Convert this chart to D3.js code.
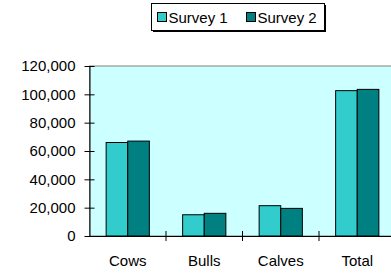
<!DOCTYPE html>
<html>
<head>
<meta charset="utf-8">
<script src="https://cdn.jsdelivr.net/npm/d3@7"></script>
<style>
  body { margin: 0; background: #fff; }
  #visual { width: 391px; height: 273px; overflow: hidden; }
  text { font-family: Arial, "Liberation Sans", sans-serif; }
</style>
</head>
<body>
<div id="visual"></div>
<script>
var categories = ['Cows', 'Bulls', 'Calves', 'Total'];
var seriesNames = ['Survey 1', 'Survey 2'];
var survey1 = [66000, 15000, 21400, 102600];
var survey2 = [67000, 16000, 19500, 103500];
var yTicks = [0, 20000, 40000, 60000, 80000, 100000, 120000];

var colours = ['#33CCCC', '#008080'];
var fontSize = '15px';

var svg = d3.select('#visual')
    .append('svg')
    .attr('width', 391)
    .attr('height', 273);

var plot = { left: 89.5, top: 66, bottom: 236, right: 395.5 };

var x_scale = d3.scaleBand()
    .domain(categories)
    .range([plot.left, plot.right])
    .padding(0);

var x_inner = d3.scaleBand()
    .domain(seriesNames)
    .range([0, x_scale.bandwidth()])
    .paddingInner(0)
    .paddingOuter(0.77);

var y_scale = d3.scaleLinear()
    .domain([0, 120000])
    .range([plot.bottom, plot.top]);

// plot area
svg.append('rect')
    .attr('x', plot.left)
    .attr('y', plot.top)
    .attr('width', plot.right - plot.left)
    .attr('height', plot.bottom - plot.top)
    .attr('fill', '#CCFFFF')
    .attr('stroke', '#808080')
    .attr('stroke-width', 1);

// bars
var rows = categories.map(function (c, i) {
    return { cat: c, values: [survey1[i], survey2[i]] };
});

var groups = svg.selectAll('.grp')
    .data(rows)
    .enter().append('g')
    .attr('class', 'grp')
    .attr('transform', function (d) { return 'translate(' + x_scale(d.cat) + ',0)'; });

groups.selectAll('rect')
    .data(function (d) {
        return d.values.map(function (v, j) { return { key: seriesNames[j], value: v, j: j }; });
    })
    .enter().append('rect')
    .attr('x', function (d) { return x_inner(d.key); })
    .attr('width', x_inner.bandwidth())
    .attr('y', function (d) { return y_scale(d.value); })
    .attr('height', function (d) { return plot.bottom - y_scale(d.value); })
    .attr('fill', function (d) { return colours[d.j]; })
    .attr('stroke', '#000')
    .attr('stroke-width', 1);

// y axis
var y_axis = d3.axisLeft(y_scale)
    .tickValues(yTicks)
    .tickSizeInner(5)
    .tickSizeOuter(0)
    .tickPadding(9)
    .tickFormat(d3.format(','));

var yg = svg.append('g')
    .attr('transform', 'translate(' + plot.left + ',0)')
    .call(y_axis);
yg.select('.domain').attr('stroke', '#000');
yg.selectAll('.tick line').attr('x1', 5).attr('x2', -5).attr('stroke', '#000');
yg.selectAll('.tick text')
    .attr('font-size', fontSize)
    .attr('fill', '#000')
    .attr('font-family', 'Arial, "Liberation Sans", sans-serif');

// x axis
var x_axis = d3.axisBottom(x_scale)
    .tickSize(0)
    .tickPadding(19);

var xg = svg.append('g')
    .attr('transform', 'translate(0,' + plot.bottom + ')')
    .call(x_axis);
xg.select('.domain').attr('stroke', '#000');
xg.selectAll('.tick text')
    .attr('font-size', fontSize)
    .attr('fill', '#000')
    .attr('font-family', 'Arial, "Liberation Sans", sans-serif');

// category divider ticks
svg.selectAll('.divider')
    .data(categories)
    .enter().append('line')
    .attr('class', 'divider')
    .attr('x1', function (d) { return x_scale(d) + x_scale.bandwidth(); })
    .attr('x2', function (d) { return x_scale(d) + x_scale.bandwidth(); })
    .attr('y1', plot.bottom - 5)
    .attr('y2', plot.bottom + 5)
    .attr('stroke', '#000');

// legend
var legend = svg.append('g');
legend.append('rect')
    .attr('x', 153).attr('y', 5)
    .attr('width', 173).attr('height', 27)
    .attr('fill', '#000');
legend.append('rect')
    .attr('x', 151.5).attr('y', 3.5)
    .attr('width', 173).attr('height', 27)
    .attr('fill', '#fff')
    .attr('stroke', '#000');

var legendX = [157.5, 246.5];
var items = legend.selectAll('.item')
    .data(seriesNames)
    .enter().append('g')
    .attr('class', 'item')
    .attr('transform', function (d, i) { return 'translate(' + legendX[i] + ',12.5)'; });

items.append('rect')
    .attr('width', 9).attr('height', 9)
    .attr('fill', function (d, i) { return colours[i]; })
    .attr('stroke', '#000');

items.append('text')
    .attr('x', 11)
    .attr('y', 10.5)
    .attr('font-size', fontSize)
    .text(function (d) { return d; });
</script>
</body>
</html>
